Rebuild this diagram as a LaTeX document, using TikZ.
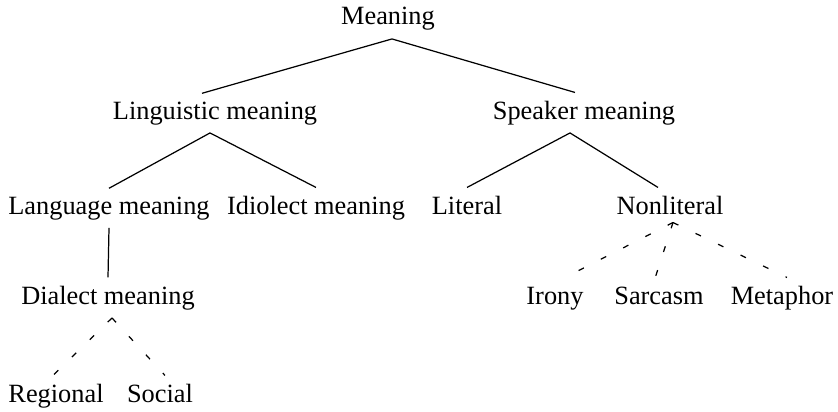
\documentclass[tikz,border=0pt]{standalone}
\usepackage{fontspec}
\setmainfont{Liberation Serif}

\begin{document}
\begin{tikzpicture}[x=0.02cm,y=-0.02cm,
  lbl/.style={anchor=base,inner sep=4.5pt,font=\fontsize{15}{18}\selectfont},
  solidedge/.style={line width=0.7pt},
  dashedge/.style={line width=0.7pt,dash pattern=on 0.12cm off 0.38cm}]
\useasboundingbox (0,0) rectangle (838,412);
\node[lbl] (mean) at (388,25) {Meaning};
\node[lbl] (ling) at (215,119) {Linguistic meaning};
\node[lbl] (spk)  at (584,119) {Speaker meaning};
\node[lbl] (lang) at (109,214) {Language meaning};
\node[lbl] (idio) at (316,214) {Idiolect meaning};
\node[lbl] (lit)  at (467,214) {Literal};
\node[lbl] (nlit) at (670,214) {Nonliteral};
\node[lbl] (dial) at (108,304) {Dialect meaning};
\node[lbl] (iron) at (555,304) {Irony};
\node[lbl] (sarc) at (659,304) {Sarcasm};
\node[lbl] (meta) at (782,304) {Metaphor};
\node[lbl] (reg)  at (56,402)  {Regional};
\node[lbl] (soc)  at (160,402) {Social};
\draw[solidedge] ([xshift=-0.26cm]ling.north) -- ([xshift=0.08cm]mean.south) -- ([xshift=-0.18cm]spk.north);
\draw[solidedge] (lang.north) -- ([xshift=-0.1cm]ling.south) -- (idio.north);
\draw[solidedge] (lit.north) -- ([xshift=-0.28cm]spk.south) -- ([xshift=-0.24cm]nlit.north);
\draw[solidedge] (lang.south) -- (dial.north);
\draw[dashedge] ([xshift=0.06cm]nlit.south) -- ([xshift=0.16cm]iron.north);
\draw[dashedge] ([xshift=0.06cm]nlit.south) -- ([xshift=-0.08cm]sarc.north);
\draw[dashedge] ([xshift=0.06cm]nlit.south) -- ([xshift=0.1cm]meta.north);
\foreach \leaf/\dx in {reg/-0.06cm,soc/0.1cm}
  \draw[dashedge] ([xshift=0.08cm]dial.south) -- ([xshift=\dx]\leaf.north);
\end{tikzpicture}
\end{document}
